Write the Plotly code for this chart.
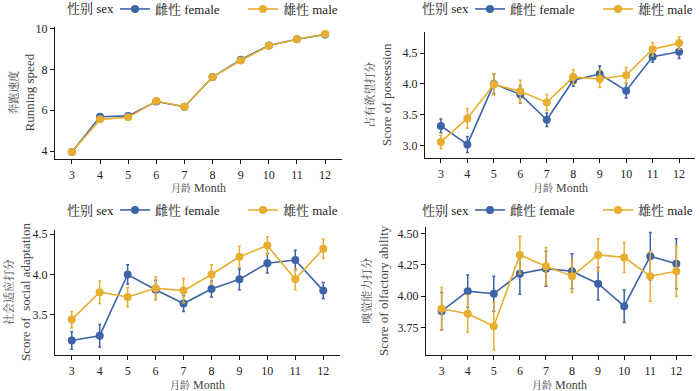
import plotly.graph_objects as go

months = [3, 4, 5, 6, 7, 8, 9, 10, 11, 12]
x_ticks = [3, 4, 5, 6, 7, 8, 9, 10, 11, 12]

# Panel 1: running speed
run_f = [3.95, 5.68, 5.72, 6.42, 6.17, 7.62, 8.47, 9.17, 9.47, 9.70]
run_m = [3.95, 5.55, 5.65, 6.45, 6.17, 7.62, 8.43, 9.15, 9.47, 9.73]
run_f_se = [0.03, 0.04, 0.04, 0.04, 0.04, 0.04, 0.04, 0.04, 0.03, 0.03]
run_m_se = [0.03, 0.04, 0.04, 0.04, 0.04, 0.04, 0.04, 0.04, 0.03, 0.03]

# Panel 2: possession
pos_f = [3.32, 3.02, 4.00, 3.83, 3.42, 4.06, 4.16, 3.89, 4.44, 4.52]
pos_m = [3.06, 3.44, 3.99, 3.88, 3.70, 4.11, 4.08, 4.14, 4.56, 4.66]
pos_f_se = [0.11, 0.13, 0.16, 0.14, 0.11, 0.10, 0.13, 0.12, 0.09, 0.11]
pos_m_se = [0.11, 0.16, 0.17, 0.18, 0.13, 0.12, 0.14, 0.13, 0.11, 0.10]

# Panel 3: social adaptation
soc_f = [3.18, 3.24, 4.00, 3.81, 3.64, 3.82, 3.94, 4.14, 4.18, 3.80]
soc_m = [3.44, 3.78, 3.72, 3.83, 3.80, 4.00, 4.22, 4.36, 3.94, 4.32]
soc_f_se = [0.11, 0.14, 0.12, 0.12, 0.10, 0.10, 0.13, 0.12, 0.12, 0.10]
soc_m_se = [0.10, 0.14, 0.12, 0.14, 0.15, 0.12, 0.13, 0.11, 0.13, 0.12]

# Panel 4: olfactory ability
olf_f = [3.88, 4.04, 4.02, 4.18, 4.22, 4.20, 4.10, 3.92, 4.32, 4.26]
olf_m = [3.90, 3.86, 3.76, 4.33, 4.24, 4.16, 4.33, 4.31, 4.16, 4.20]
olf_f_se = [0.15, 0.13, 0.14, 0.165, 0.14, 0.14, 0.13, 0.13, 0.19, 0.20]
olf_m_se = [0.17, 0.15, 0.19, 0.15, 0.15, 0.13, 0.13, 0.12, 0.20, 0.20]

y_titles_cn = ["奔跑速度", "占有欲望打分", "社会适应打分", "嗅觉能力打分"]
y_titles_en = ["Running speed", "Score of possession", "Score of  social adaptation",
               "Score of olfactory ability"]
x_title_cn = "月龄"
x_title_en = "Month"
legend_title = "性别 sex"
name_f = "雌性 female"
name_m = "雄性 male"

C_F = "#3D64A6"
C_M = "#E8AE30"
FONT = "Liberation Serif, Noto Serif CJK SC, Noto Sans CJK SC, serif"
W, H = 700, 391

panels = [
    (run_f, run_m, run_f_se, run_m_se),
    (pos_f, pos_m, pos_f_se, pos_m_se),
    (soc_f, soc_m, soc_f_se, soc_m_se),
    (olf_f, olf_m, olf_f_se, olf_m_se),
]

# pixel layout: (x_left, x_right, y_top, y_bottom)
px_dom = [(55, 342, 27, 159), (425, 695, 32, 158), (55, 340, 230, 355), (426, 692, 227, 355)]
y_ranges = [[3.61, 10.07], [2.80, 4.84], [3.0, 4.553], [3.53, 4.553]]
y_tickvals = [[4, 6, 8, 10], [3.0, 3.5, 4.0, 4.5], [3.5, 4.0, 4.5], [3.75, 4.0, 4.25, 4.5]]
y_ticktext = [["4", "6", "8", "10"], ["3.0", "3.5", "4.0", "4.5"], ["3.5", "4.0", "4.5"],
              ["3.75", "4.00", "4.25", "4.50"]]
# legend title left x, legend row y (pixels)
legend_pos = [(65, 9), (420, 9), (65, 210), (420, 210)]
xtitle_y = [187.5, 187.5, 384.5, 384.5]
ytitle_x = [21.5, 379, 17.5, 375]

fig = go.Figure()
annotations = []
for i, (f, m, fse, mse) in enumerate(panels):
    k = "" if i == 0 else str(i + 1)
    lg = "legend" + k
    for vals, se, nm, col in [(f, fse, name_f, C_F), (m, mse, name_m, C_M)]:
        fig.add_trace(go.Scatter(
            x=months, y=vals, name=nm, mode="lines+markers",
            line=dict(color=col, width=1.6),
            marker=dict(color=col, size=8),
            error_y=dict(type="data", array=se, visible=True, color=col, thickness=1.5, width=1.5),
            xaxis="x" + k, yaxis="y" + k, legend=lg,
        ))
    xl, xr, yt, yb = px_dom[i]
    axcommon = dict(showline=True, linecolor="#1a1a1a", linewidth=1.2, ticks="outside",
                    ticklen=4, tickcolor="#1a1a1a", tickwidth=1.1, showgrid=False, zeroline=False,
                    tickfont=dict(family=FONT, size=12, color="#222"))
    fig.layout["xaxis" + k] = dict(domain=[xl / W, xr / W], range=[2.4, 12.6], anchor="y" + k,
                                   tickvals=x_ticks, **axcommon)
    fig.layout["yaxis" + k] = dict(domain=[1 - yb / H, 1 - yt / H], range=y_ranges[i], anchor="x" + k,
                                   tickvals=y_tickvals[i], ticktext=y_ticktext[i], **axcommon)
    ytxt = ('<span style="font-size:11px">' + y_titles_cn[i] + '</span><br>' + y_titles_en[i])
    annotations.append(dict(text=ytxt, x=ytitle_x[i] / W, y=1 - (yt + yb) / 2 / H,
                            xref="paper", yref="paper", xanchor="center", yanchor="middle",
                            textangle=-90, showarrow=False,
                            font=dict(family=FONT, size=13, color="#444")))
    xtxt = '<span style="font-size:10px">' + x_title_cn + '</span> ' + x_title_en
    annotations.append(dict(text=xtxt, x=(xl + xr) / 2 / W, y=1 - xtitle_y[i] / H,
                            xref="paper", yref="paper", xanchor="center", yanchor="middle",
                            showarrow=False, font=dict(family=FONT, size=12, color="#444")))
    lx, ly = legend_pos[i]
    annotations.append(dict(text=legend_title, x=lx / W, y=1 - ly / H, xref="paper", yref="paper",
                            xanchor="left", yanchor="middle", showarrow=False,
                            font=dict(family=FONT, size=13, color="#222")))
    fig.layout[lg] = dict(x=(lx + 50) / W, y=1 - ly / H, xanchor="left", yanchor="middle",
                          xref="container", yref="container",
                          orientation="h",
                          font=dict(family=FONT, size=13, color="#222"),
                          entrywidth=83, entrywidthmode="pixels", itemwidth=30,
                          bgcolor="rgba(0,0,0,0)", tracegroupgap=0)

fig.update_layout(width=W, height=H, margin=dict(l=0, r=0, t=0, b=0, autoexpand=False),
                  plot_bgcolor="white", paper_bgcolor="white", showlegend=True,
                  font=dict(family=FONT), annotations=annotations)
fig.write_html("out.html", config={"displayModeBar": False},
               post_script="document.body.style.margin='0px';")
